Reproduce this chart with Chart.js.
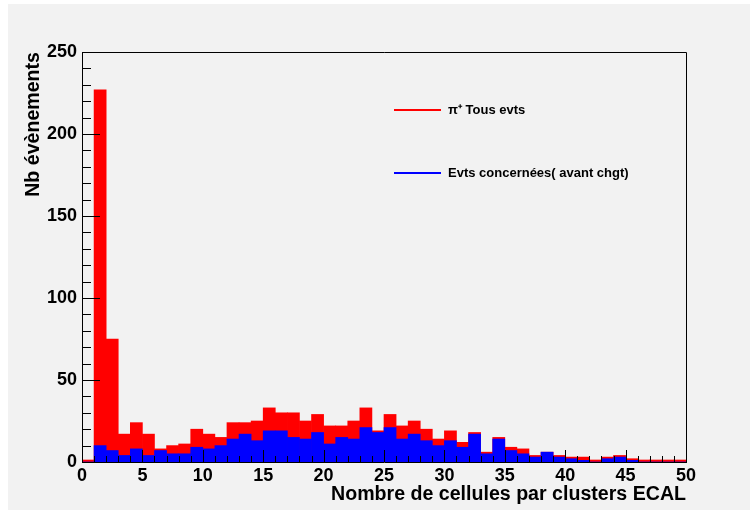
<!DOCTYPE html>
<html>
<head>
<meta charset="utf-8">
<script src="https://cdn.jsdelivr.net/npm/chart.js@4/dist/chart.umd.min.js"></script>
<style>
  html, body { margin: 0; padding: 0; background: #ffffff; }
  #pad { position: absolute; left: 8px; top: 4px; width: 742px; height: 506px; background: #f2f2f2; }
  #c { position: absolute; left: 0; top: 0; }
</style>
</head>
<body>
<div id="pad"></div>
<canvas id="c" width="750" height="510"></canvas>
<script>
// Histogram bins (lower edge of each 1-wide bin)
const binLow = [0, 1, 2, 3, 4, 5, 6, 7, 8, 9,
                10, 11, 12, 13, 14, 15, 16, 17, 18, 19,
                20, 21, 22, 23, 24, 25, 26, 27, 28, 29,
                30, 31, 32, 33, 34, 35, 36, 37, 38, 39,
                40, 41, 42, 43, 44, 45, 46, 47, 48, 49];

// pi+ : all events
const allEvents = [0, 227, 75, 17, 24, 17, 8, 10, 11, 20,
                   17, 15, 24, 24, 25, 33, 30, 30, 25, 29,
                   22, 22, 25, 33, 19, 29, 22, 25, 20, 14,
                   19, 12, 18, 6, 15, 9, 8, 4, 6, 4,
                   3, 3, 1, 3, 4, 2, 1, 0, 0, 0];

// events concerned (before change)
const concerned = [0, 10, 7, 4, 8, 4, 7, 5, 5, 9,
                   8, 10, 14, 17, 13, 19, 19, 15, 14, 18,
                   11, 15, 14, 21, 18, 21, 14, 17, 13, 10,
                   13, 9, 17, 5, 14, 7, 5, 3, 6, 3,
                   2, 1, 0, 2, 3, 1, 0, 0, 0, 0];

const xTicks = [0, 5, 10, 15, 20, 25, 30, 35, 40, 45, 50];
const yTicks = [0, 50, 100, 150, 200, 250];

const labelAll = 'π⁺ Tous evts';
const labelConcerned = 'Evts concernées( avant chgt)';
const xTitle = 'Nombre de cellules par clusters ECAL';
const yTitle = 'Nb évènements';

const FONT = '"Liberation Sans", Arial, Helvetica, sans-serif';

const toPoints = vals => vals.map((v, i) => ({ x: binLow[i] + 0.5, y: v }));

// Inward tick marks plus the top/right frame lines
const frameTicks = {
  id: 'frameTicks',
  afterDatasetsDraw(chart) {
    const { ctx, chartArea: a, scales: { x, y } } = chart;
    ctx.save();
    ctx.strokeStyle = '#000';
    ctx.lineWidth = 1;
    ctx.beginPath();
    for (let v = 0; v <= 250; v += 10) {
      const py = Math.round(y.getPixelForValue(v)) + 0.5;
      const len = v % 50 === 0 ? 18 : 9;
      ctx.moveTo(a.left, py);
      ctx.lineTo(a.left + len, py);
    }
    for (let v = 0; v <= 50; v += 1) {
      const px = Math.round(x.getPixelForValue(v)) + 0.5;
      const len = v % 5 === 0 ? 12 : 6;
      ctx.moveTo(px, a.bottom);
      ctx.lineTo(px, a.bottom - len);
    }
    ctx.stroke();
    ctx.beginPath();
    ctx.moveTo(a.left, Math.round(a.top) + 0.5);
    ctx.lineTo(Math.round(a.right) + 0.5, Math.round(a.top) + 0.5);
    ctx.lineTo(Math.round(a.right) + 0.5, a.bottom);
    ctx.stroke();
    ctx.restore();
  }
};

// Line-style legend drawn inside the frame
const lineLegend = {
  id: 'lineLegend',
  afterDraw(chart) {
    const { ctx, chartArea: a } = chart;
    const items = [chart.data.datasets[1], chart.data.datasets[0]];
    const rows = [110, 173];
    const x0 = a.left + 312, x1 = a.left + 359, tx = a.left + 366;
    ctx.save();
    ctx.font = 'bold 13px ' + FONT;
    ctx.textBaseline = 'middle';
    ctx.textAlign = 'left';
    items.forEach((ds, i) => {
      ctx.strokeStyle = ds.borderColor;
      ctx.lineWidth = 2;
      ctx.beginPath();
      ctx.moveTo(x0, rows[i]);
      ctx.lineTo(x1, rows[i]);
      ctx.stroke();
      ctx.fillStyle = '#000';
      ctx.fillText(ds.label, tx, rows[i]);
    });
    ctx.restore();
  }
};

new Chart(document.getElementById('c'), {
  type: 'bar',
  data: {
    datasets: [
      {
        label: labelConcerned,
        data: toPoints(concerned),
        backgroundColor: '#0000ff',
        borderColor: '#0000ff',
        borderWidth: 0,
        order: 1,
        grouped: false,
        barPercentage: 1,
        categoryPercentage: 1
      },
      {
        label: labelAll,
        data: toPoints(allEvents),
        backgroundColor: '#ff0000',
        borderColor: '#ff0000',
        borderWidth: 0,
        minBarLength: 2,
        order: 2,
        grouped: false,
        barPercentage: 1,
        categoryPercentage: 1
      }
    ]
  },
  options: {
    responsive: false,
    animation: false,
    devicePixelRatio: 1,
    layout: { padding: { top: 52, right: 64, left: 0, bottom: 0 } },
    plugins: { legend: { display: false }, tooltip: { enabled: false } },
    scales: {
      x: {
        type: 'linear',
        min: 0,
        max: 50,
        offset: false,
        grid: { display: false, drawTicks: false },
        border: { display: true, color: '#000', width: 1 },
        afterBuildTicks: s => { s.ticks = xTicks.map(v => ({ value: v })); },
        afterFit: s => { s.height = 48; },
        ticks: {
          autoSkip: false, maxRotation: 0, padding: 3, color: '#000',
          font: { family: FONT, size: 18, weight: 'bold' }
        },
        title: {
          display: true, text: xTitle, align: 'end', color: '#000',
          font: { family: FONT, size: 19.6, weight: 'bold' },
          padding: { top: 0, bottom: 4 }
        }
      },
      y: {
        type: 'linear',
        min: 0,
        max: 250,
        grid: { display: false, drawTicks: false },
        border: { display: true, color: '#000', width: 1 },
        afterBuildTicks: s => { s.ticks = yTicks.map(v => ({ value: v })); },
        afterFit: s => { s.width = 82; },
        ticks: {
          padding: 5, color: '#000',
          font: { family: FONT, size: 18, weight: 'bold' }
        },
        title: {
          display: true, text: yTitle, align: 'end', color: '#000',
          font: { family: FONT, size: 19.6, weight: 'bold' },
          padding: { top: 22, bottom: 0 }
        }
      }
    }
  },
  plugins: [frameTicks, lineLegend]
});
</script>
</body>
</html>
